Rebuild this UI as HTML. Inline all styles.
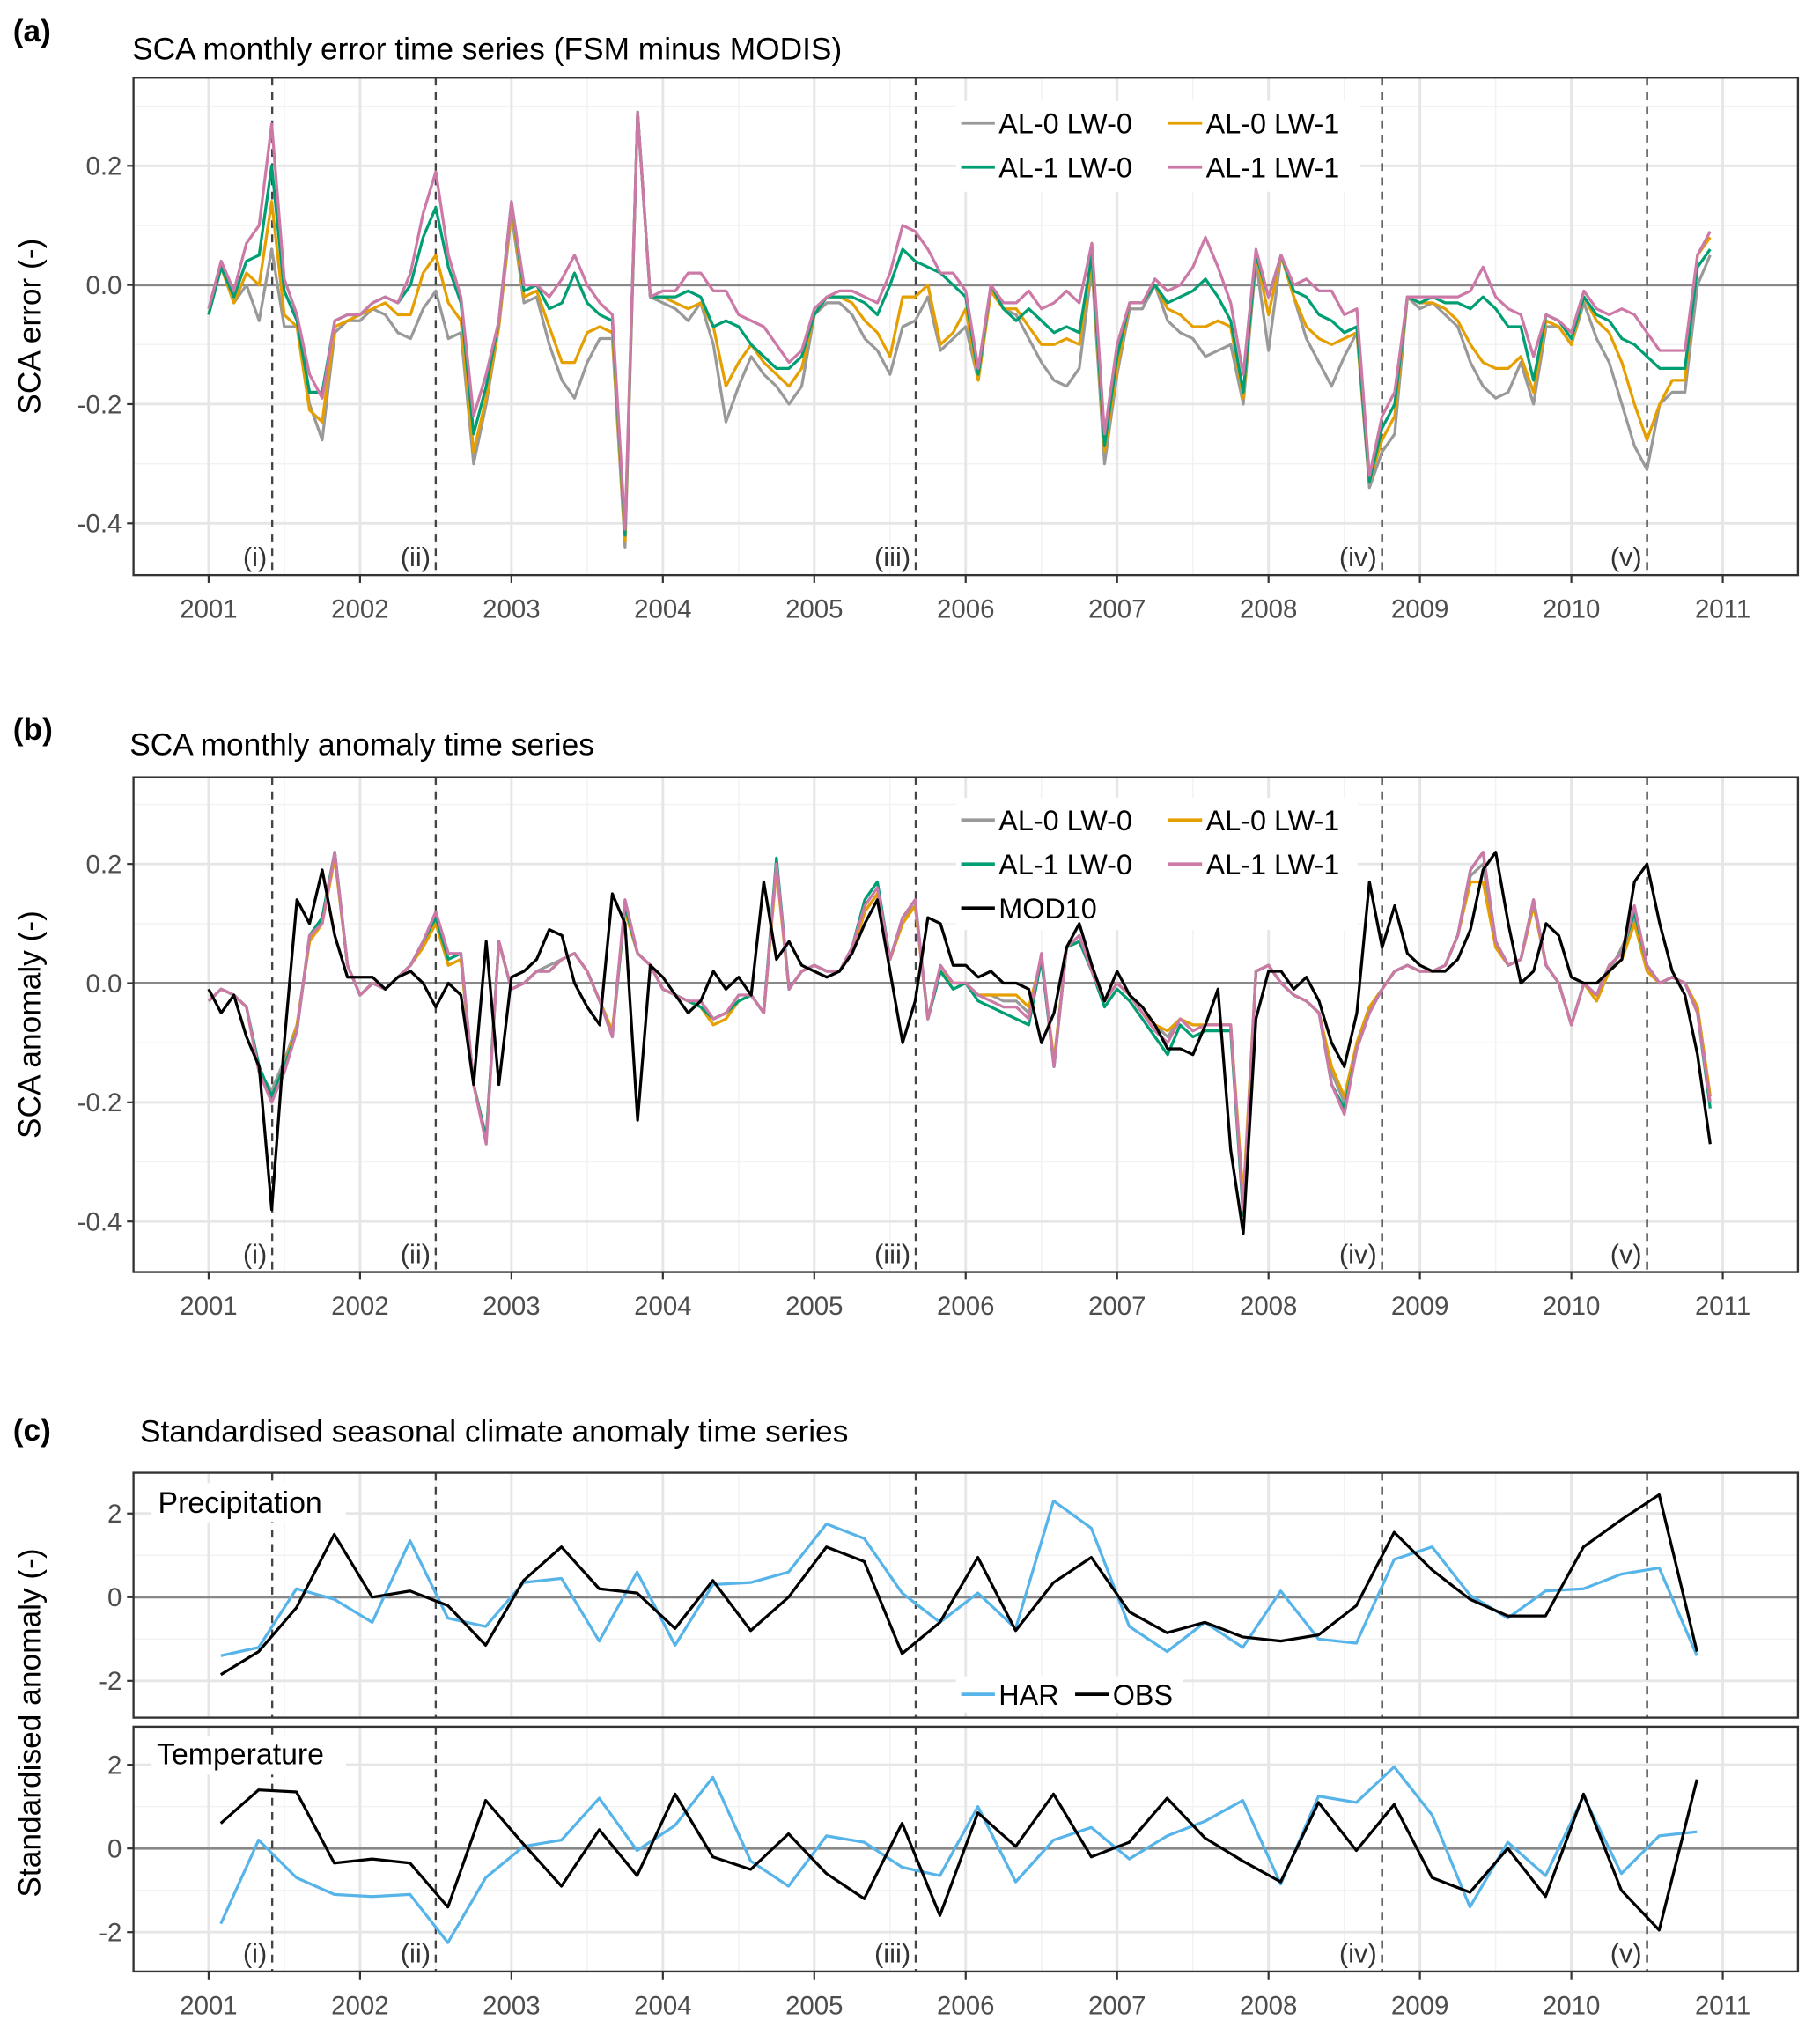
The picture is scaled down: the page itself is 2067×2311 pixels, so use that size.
<!DOCTYPE html>
<html><head><meta charset="utf-8"><style>
html,body{margin:0;padding:0;background:#fff}
svg{display:block}
text{font-family:"Liberation Sans",Arial,sans-serif}
</style></head><body>
<svg id="fig" width="2067" height="2311" viewBox="0 0 1405 1571" xmlns="http://www.w3.org/2000/svg"></svg>
<script>
// ---------- data ----------
const yearTicks = [2001,2002,2003,2004,2005,2006,2007,2008,2009,2010,2011];
const eventYears = [2001.42,2002.5,2005.67,2008.75,2010.5];
const eventLabels = ["(i)","(ii)","(iii)","(iv)","(v)"];
const errTicks = [-0.4,-0.2,0.0,0.2];
const errTickLabels = ["-0.4","-0.2","0.0","0.2"];
const stdTicks = [-2,0,2];
const stdTickLabels = ["-2","0","2"];

const errAL0LW0 = [-0.05,0.03,-0.03,0.0,-0.06,0.06,-0.07,-0.07,-0.2,-0.26,-0.08,-0.06,
-0.06,-0.04,-0.05,-0.08,-0.09,-0.04,-0.01,-0.09,-0.08,-0.30,-0.2,-0.07,
0.12,-0.03,-0.02,-0.1,-0.16,-0.19,-0.13,-0.09,-0.09,-0.44,0.29,-0.02,
-0.03,-0.04,-0.06,-0.03,-0.1,-0.23,-0.17,-0.12,-0.15,-0.17,-0.2,-0.17,
-0.05,-0.03,-0.03,-0.05,-0.09,-0.11,-0.15,-0.07,-0.06,-0.02,-0.11,-0.09,
-0.07,-0.16,-0.01,-0.04,-0.05,-0.09,-0.13,-0.16,-0.17,-0.14,0.03,-0.3,
-0.15,-0.04,-0.04,0.0,-0.06,-0.08,-0.09,-0.12,-0.11,-0.1,-0.2,0.04,
-0.11,0.05,-0.02,-0.09,-0.13,-0.17,-0.12,-0.08,-0.34,-0.28,
-0.25,-0.02,-0.04,-0.03,-0.05,-0.07,-0.13,-0.17,-0.19,-0.18,-0.13,-0.2,
-0.07,-0.07,-0.10,-0.03,-0.09,-0.13,-0.20,-0.27,-0.31,-0.20,-0.18,-0.18,0.0,0.05];
const errAL0LW1 = [-0.05,0.03,-0.03,0.02,0.0,0.14,-0.05,-0.07,-0.21,-0.23,-0.07,-0.06,
-0.05,-0.04,-0.03,-0.05,-0.05,0.02,0.05,-0.03,-0.06,-0.28,-0.19,-0.07,
0.13,-0.02,-0.01,-0.07,-0.13,-0.13,-0.08,-0.07,-0.08,-0.43,0.29,-0.02,
-0.02,-0.03,-0.04,-0.03,-0.07,-0.17,-0.13,-0.10,-0.13,-0.15,-0.17,-0.14,
-0.05,-0.02,-0.02,-0.03,-0.06,-0.08,-0.12,-0.02,-0.02,0.0,-0.10,-0.08,
-0.04,-0.16,-0.01,-0.04,-0.04,-0.07,-0.10,-0.10,-0.09,-0.10,0.04,-0.28,
-0.14,-0.03,-0.03,0.0,-0.04,-0.05,-0.07,-0.07,-0.06,-0.07,-0.19,0.05,
-0.05,0.05,-0.02,-0.07,-0.09,-0.10,-0.09,-0.08,-0.33,-0.26,
-0.22,-0.02,-0.03,-0.03,-0.04,-0.06,-0.10,-0.13,-0.14,-0.14,-0.12,-0.18,
-0.06,-0.07,-0.10,-0.02,-0.06,-0.08,-0.13,-0.20,-0.26,-0.20,-0.16,-0.16,0.05,0.08];
const errAL1LW0 = [-0.05,0.03,-0.02,0.04,0.05,0.20,-0.01,-0.06,-0.18,-0.18,-0.06,-0.05,
-0.05,-0.03,-0.02,-0.03,0.0,0.08,0.13,0.03,-0.03,-0.25,-0.17,-0.06,
0.14,-0.01,0.0,-0.04,-0.03,0.02,-0.03,-0.05,-0.06,-0.42,0.29,-0.02,
-0.02,-0.02,-0.01,-0.02,-0.07,-0.06,-0.07,-0.10,-0.12,-0.14,-0.14,-0.12,
-0.05,-0.02,-0.02,-0.02,-0.03,-0.05,0.0,0.06,0.04,0.03,0.02,0.0,
-0.02,-0.15,0.0,-0.04,-0.06,-0.04,-0.06,-0.08,-0.07,-0.08,0.05,-0.27,
-0.12,-0.03,-0.03,0.0,-0.03,-0.02,-0.01,0.01,-0.02,-0.06,-0.18,0.05,
-0.02,0.05,-0.01,-0.02,-0.05,-0.06,-0.08,-0.07,-0.33,-0.24,
-0.2,-0.02,-0.03,-0.02,-0.03,-0.03,-0.04,-0.02,-0.04,-0.07,-0.07,-0.16,
-0.05,-0.06,-0.09,-0.02,-0.05,-0.06,-0.09,-0.10,-0.12,-0.14,-0.14,-0.14,0.03,0.06];
const errAL1LW1 = [-0.04,0.04,-0.01,0.07,0.1,0.27,0.01,-0.05,-0.15,-0.19,-0.06,-0.05,
-0.05,-0.03,-0.02,-0.03,0.02,0.12,0.19,0.05,-0.02,-0.22,-0.15,-0.06,
0.14,0.0,0.0,-0.02,0.01,0.05,0.0,-0.03,-0.05,-0.41,0.29,-0.02,
-0.01,-0.01,0.02,0.02,-0.01,-0.01,-0.05,-0.06,-0.07,-0.1,-0.13,-0.11,
-0.04,-0.02,-0.01,-0.01,-0.02,-0.03,0.02,0.1,0.09,0.06,0.02,0.02,
-0.01,-0.14,0.0,-0.03,-0.03,-0.01,-0.04,-0.03,-0.01,-0.03,0.07,-0.25,
-0.1,-0.03,-0.03,0.01,-0.01,0.0,0.03,0.08,0.03,-0.03,-0.15,0.06,
-0.02,0.05,0.0,0.01,-0.01,-0.01,-0.05,-0.04,-0.32,-0.22,
-0.18,-0.02,-0.02,-0.02,-0.02,-0.02,-0.01,0.03,-0.02,-0.04,-0.05,-0.12,
-0.05,-0.06,-0.08,-0.01,-0.04,-0.05,-0.04,-0.05,-0.08,-0.11,-0.11,-0.11,0.05,0.09];

const anoAL1LW1 = [-0.03,-0.01,-0.02,-0.04,-0.15,-0.2,-0.15,-0.08,0.08,0.10,0.22,0.03,
-0.02,0.0,-0.01,0.01,0.03,0.07,0.12,0.05,0.05,-0.17,-0.27,0.07,
-0.01,0.0,0.02,0.02,0.04,0.05,0.02,-0.03,-0.09,0.14,0.05,0.03,
-0.01,-0.02,-0.03,-0.03,-0.06,-0.05,-0.02,-0.02,-0.05,0.20,-0.01,0.02,
0.03,0.02,0.02,0.06,0.13,0.16,0.04,0.11,0.14,-0.06,0.03,0.0,
0.0,-0.02,-0.03,-0.04,-0.04,-0.06,0.05,-0.14,0.06,0.08,0.02,-0.03,
0.0,-0.02,-0.05,-0.08,-0.1,-0.06,-0.08,-0.07,-0.07,-0.07,-0.38,0.02,
0.03,0.0,-0.02,-0.03,-0.05,-0.17,-0.22,-0.11,-0.05,-0.01,0.02,0.03,
0.02,0.02,0.03,0.08,0.19,0.22,0.07,0.03,0.04,0.14,0.03,0.0,
-0.07,0.0,-0.02,0.03,0.05,0.13,0.03,0.0,0.01,0.0,-0.05,-0.2];
const anoAL1LW0 = [-0.03,-0.01,-0.02,-0.04,-0.14,-0.19,-0.14,-0.08,0.08,0.11,0.22,0.03,
-0.02,0.0,-0.01,0.01,0.03,0.07,0.11,0.04,0.05,-0.17,-0.26,0.07,
-0.01,0.0,0.02,0.02,0.04,0.05,0.02,-0.03,-0.09,0.13,0.05,0.03,
-0.01,-0.02,-0.03,-0.04,-0.06,-0.05,-0.03,-0.02,-0.05,0.21,-0.01,0.02,
0.03,0.02,0.02,0.06,0.14,0.17,0.04,0.11,0.14,-0.06,0.02,-0.01,
0.0,-0.03,-0.04,-0.05,-0.06,-0.07,0.04,-0.14,0.06,0.07,0.02,-0.04,
-0.01,-0.03,-0.06,-0.09,-0.12,-0.07,-0.09,-0.08,-0.08,-0.08,-0.39,0.02,
0.03,0.0,-0.02,-0.03,-0.05,-0.17,-0.21,-0.11,-0.05,-0.01,0.02,0.03,
0.02,0.02,0.03,0.08,0.19,0.22,0.07,0.03,0.04,0.14,0.03,0.0,
-0.07,0.0,-0.02,0.03,0.05,0.12,0.03,0.0,0.01,0.0,-0.05,-0.21];
const anoAL0LW1 = [-0.03,-0.01,-0.02,-0.04,-0.15,-0.19,-0.14,-0.07,0.07,0.10,0.21,0.03,
-0.02,0.0,-0.01,0.01,0.03,0.06,0.10,0.03,0.04,-0.17,-0.26,0.07,
-0.01,0.0,0.02,0.02,0.04,0.05,0.02,-0.03,-0.08,0.12,0.05,0.03,
-0.01,-0.02,-0.03,-0.04,-0.07,-0.06,-0.03,-0.02,-0.05,0.19,-0.01,0.02,
0.03,0.02,0.02,0.05,0.12,0.15,0.04,0.10,0.13,-0.06,0.02,0.0,
0.0,-0.02,-0.02,-0.02,-0.02,-0.04,0.04,-0.13,0.06,0.07,0.02,-0.03,
0.0,-0.02,-0.05,-0.07,-0.08,-0.06,-0.07,-0.07,-0.07,-0.07,-0.36,0.02,
0.03,0.0,-0.02,-0.03,-0.05,-0.14,-0.19,-0.10,-0.04,-0.01,0.02,0.03,
0.02,0.02,0.03,0.08,0.17,0.17,0.06,0.03,0.04,0.13,0.03,0.0,
-0.07,0.0,-0.03,0.02,0.04,0.10,0.02,0.0,0.01,0.0,-0.04,-0.19];
const anoAL0LW0 = [-0.03,-0.01,-0.02,-0.04,-0.15,-0.18,-0.13,-0.07,0.07,0.11,0.22,0.03,
-0.02,0.0,-0.01,0.01,0.03,0.07,0.11,0.03,0.04,-0.17,-0.26,0.07,
-0.01,0.0,0.02,0.03,0.04,0.05,0.02,-0.03,-0.08,0.13,0.05,0.03,
-0.01,-0.02,-0.03,-0.04,-0.06,-0.05,-0.03,-0.02,-0.05,0.20,-0.01,0.02,
0.03,0.02,0.02,0.05,0.12,0.15,0.04,0.11,0.13,-0.06,0.02,0.0,
0.0,-0.02,-0.02,-0.03,-0.03,-0.05,0.04,-0.14,0.06,0.08,0.02,-0.03,
0.0,-0.02,-0.05,-0.07,-0.09,-0.06,-0.08,-0.07,-0.07,-0.07,-0.37,0.02,
0.03,0.0,-0.02,-0.03,-0.05,-0.15,-0.2,-0.10,-0.04,-0.01,0.02,0.03,
0.02,0.02,0.03,0.08,0.18,0.20,0.06,0.03,0.04,0.13,0.03,0.0,
-0.07,0.0,-0.03,0.02,0.06,0.11,0.02,0.0,0.01,0.0,-0.04,-0.19];
const anoMOD10 = [-0.01,-0.05,-0.02,-0.09,-0.14,-0.38,-0.1,0.14,0.10,0.19,0.08,0.01,
0.01,0.01,-0.01,0.01,0.02,0.0,-0.04,0.0,-0.02,-0.17,0.07,-0.17,
0.01,0.02,0.04,0.09,0.08,0.0,-0.04,-0.07,0.15,0.1,-0.23,0.03,
0.01,-0.02,-0.05,-0.03,0.02,-0.01,0.01,-0.02,0.17,0.04,0.07,0.03,
0.02,0.01,0.02,0.05,0.1,0.14,0.02,-0.1,-0.03,0.11,0.1,0.03,
0.03,0.01,0.02,0.0,0.0,-0.01,-0.10,-0.05,0.06,0.10,0.03,-0.03,
0.02,-0.02,-0.04,-0.07,-0.11,-0.11,-0.12,-0.07,-0.01,-0.28,-0.42,-0.06,
0.02,0.02,-0.01,0.01,-0.03,-0.1,-0.14,-0.05,0.17,0.06,0.13,0.05,
0.03,0.02,0.02,0.04,0.09,0.19,0.22,0.1,0.0,0.02,0.1,0.08,
0.01,0.0,0.0,0.02,0.04,0.17,0.20,0.1,0.02,-0.02,-0.12,-0.27];

const precipHAR = [-1.4,-1.2,0.2,-0.05,-0.6,1.35,-0.5,-0.7,0.35,0.45,-1.05,0.6,-1.15,0.3,0.35,0.6,1.75,1.4,0.1,-0.6,0.1,-0.75,2.3,1.65,-0.7,-1.3,-0.6,-1.2,0.15,-1.0,-1.1,0.9,1.2,0.05,-0.5,0.15,0.2,0.55,0.7,-1.4];
const precipOBS = [-1.85,-1.3,-0.25,1.5,0.0,0.15,-0.2,-1.15,0.4,1.2,0.2,0.1,-0.75,0.4,-0.8,0.0,1.2,0.85,-1.35,-0.6,0.95,-0.8,0.35,0.95,-0.35,-0.85,-0.6,-0.95,-1.05,-0.9,-0.2,1.55,0.65,-0.05,-0.45,-0.45,1.2,1.85,2.45,-1.3];
const tempHAR = [-1.8,0.2,-0.7,-1.1,-1.15,-1.1,-2.25,-0.7,0.05,0.2,1.2,-0.05,0.55,1.7,-0.3,-0.9,0.3,0.15,-0.45,-0.65,1.0,-0.8,0.2,0.5,-0.25,0.3,0.65,1.15,-0.85,1.25,1.1,1.95,0.8,-1.4,0.15,-0.65,1.25,-0.6,0.3,0.4];
const tempOBS = [0.6,1.4,1.35,-0.35,-0.25,-0.35,-1.4,1.15,0.1,-0.9,0.45,-0.65,1.3,-0.2,-0.5,0.35,-0.6,-1.2,0.6,-1.6,0.85,0.05,1.3,-0.2,0.15,1.2,0.25,-0.3,-0.8,1.1,-0.05,1.05,-0.7,-1.05,0.0,-1.15,1.3,-1.0,-1.95,1.65];

// ---------- drawing ----------
const NS="http://www.w3.org/2000/svg";
const svg=document.getElementById('fig');
function el(tag,attrs,parent){const e=document.createElementNS(NS,tag);for(const k in attrs)e.setAttribute(k,attrs[k]);(parent||svg).appendChild(e);return e;}
const X0=103,X1=1388;
const xs=t=>161+(t-2001)*116.9;
const COL={g:"#999999",o:"#E69F00",gr:"#009E73",p:"#CC79A7",har:"#56B4E9",k:"#000"};

function panel(name,top,bot,yScale,ticks,tickLabels,minorTicks){
  const g=el('g',{});
  
  
  el('rect',{x:X0,y:top,width:X1-X0,height:bot-top,fill:'#fff'},g);
  for(let y=2001.5;y<2011.6;y+=1){if(xs(y)<X1)el('line',{x1:xs(y),x2:xs(y),y1:top,y2:bot,stroke:'#f2f2f2','stroke-width':1},g);}
  minorTicks.forEach(v=>{const y=yScale(v);if(y>top&&y<bot)el('line',{x1:X0,x2:X1,y1:y,y2:y,stroke:'#f2f2f2','stroke-width':1},g);});
  yearTicks.forEach(v=>el('line',{x1:xs(v),x2:xs(v),y1:top,y2:bot,stroke:'#e6e6e6','stroke-width':2},g));
  ticks.forEach(v=>el('line',{x1:X0,x2:X1,y1:yScale(v),y2:yScale(v),stroke:'#e6e6e6','stroke-width':2},g));
  el('line',{x1:X0,x2:X1,y1:yScale(0),y2:yScale(0),stroke:'#888','stroke-width':2},g);
  eventYears.forEach(v=>el('line',{x1:xs(v),x2:xs(v),y1:top,y2:bot,stroke:'#444','stroke-width':1.6,'stroke-dasharray':'6,5'},g));
  ticks.forEach((v,i)=>{
    el('line',{x1:X0-5,x2:X0,y1:yScale(v),y2:yScale(v),stroke:'#333','stroke-width':1.5},g);
    const t=el('text',{x:X0-9,y:yScale(v)+7,'text-anchor':'end','font-size':20,fill:'#4d4d4d'},g);t.textContent=tickLabels[i];
  });
  return g;
}
function frame(g,top,bot){el('rect',{x:X0,y:top,width:X1-X0,height:bot-top,fill:'none',stroke:'#333','stroke-width':1.6},g);}
function xaxis(g,bot){
  yearTicks.forEach(v=>{
    el('line',{x1:xs(v),x2:xs(v),y1:bot,y2:bot+6,stroke:'#333','stroke-width':1.5},g);
    const t=el('text',{x:xs(v),y:bot+33,'text-anchor':'middle','font-size':20,fill:'#4d4d4d'},g);t.textContent=v;
  });
}
function eventText(g,y){
  eventYears.forEach((v,i)=>{const t=el('text',{x:xs(v)-4,y:y,'text-anchor':'end','font-size':21,fill:'#333'},g);t.textContent=eventLabels[i];});
}
function series(g,vals,t0,dt,ys,color,name){
  const pts=vals.map((v,i)=>xs(t0+i*dt).toFixed(1)+','+ys(v).toFixed(1)).join(' ');
  const p=el('polyline',{points:pts,fill:'none',stroke:color,'stroke-width':2.2,'stroke-linejoin':'round'},g);
  
  
}
function text(x,y,s,size,opts,name){
  const t=el('text',Object.assign({x:x,y:y,'font-size':size,fill:'#000'},opts||{}));
  t.textContent=s;
  
  
  return t;
}
function legendItem(g,x,y,color,label,name){
  const gg=el('g',{},g);
  
  
  el('line',{x1:x,x2:x+26,y1:y,y2:y,stroke:color,'stroke-width':2.5},gg);
  const t=el('text',{x:x+29,y:y+8,'font-size':22,fill:'#000'},gg);t.textContent=label;
}

// Panel a
const ya=v=>220-v*460;
const ga=panel('panel-a-plot',60,444,ya,errTicks,errTickLabels,[-0.3,-0.1,0.1,0.3]);
eventText(ga,437);
series(ga,errAL0LW0,2001,1/12,ya,COL.g,'line-a-al0-lw0');
series(ga,errAL0LW1,2001,1/12,ya,COL.o,'line-a-al0-lw1');
series(ga,errAL1LW0,2001,1/12,ya,COL.gr,'line-a-al1-lw0');
series(ga,errAL1LW1,2001,1/12,ya,COL.p,'line-a-al1-lw1');
el('rect',{x:738,y:78,width:312,height:70,fill:'#fff'},ga);
legendItem(ga,742,95,COL.g,'AL-0 LW-0','legend-al0-lw0');
legendItem(ga,902,95,COL.o,'AL-0 LW-1','legend-al0-lw1');
legendItem(ga,742,129,COL.gr,'AL-1 LW-0','legend-al1-lw0');
legendItem(ga,902,129,COL.p,'AL-1 LW-1','legend-al1-lw1');
frame(ga,60,444);xaxis(ga,444);
text(10,32,'(a)',24,{'font-weight':'bold'},'panel-a-label');
text(102,46,'SCA monthly error time series (FSM minus MODIS)',24,{},'panel-a-title');
text(31,252,'SCA error (-)',24,{transform:'rotate(-90 31 252)','text-anchor':'middle'},'panel-a-y-title');

// Panel b
const yb=v=>759-v*460;
const gb=panel('panel-b-plot',600,982,yb,errTicks,errTickLabels,[-0.3,-0.1,0.1,0.3]);
eventText(gb,975);
el('rect',{x:738,y:616,width:310,height:102,fill:'#fff'},gb);
legendItem(gb,742,633,COL.g,'AL-0 LW-0','legend-b-al0-lw0');
legendItem(gb,902,633,COL.o,'AL-0 LW-1','legend-b-al0-lw1');
legendItem(gb,742,667,COL.gr,'AL-1 LW-0','legend-b-al1-lw0');
legendItem(gb,902,667,COL.p,'AL-1 LW-1','legend-b-al1-lw1');
legendItem(gb,742,701,COL.k,'MOD10','legend-b-mod10');
series(gb,anoAL0LW0,2001,1/12,yb,COL.g,'line-b-al0-lw0');
series(gb,anoAL0LW1,2001,1/12,yb,COL.o,'line-b-al0-lw1');
series(gb,anoAL1LW0,2001,1/12,yb,COL.gr,'line-b-al1-lw0');
series(gb,anoAL1LW1,2001,1/12,yb,COL.p,'line-b-al1-lw1');
series(gb,anoMOD10,2001,1/12,yb,COL.k,'line-b-mod10');
frame(gb,600,982);xaxis(gb,982);
text(10,571,'(b)',24,{'font-weight':'bold'},'panel-b-label');
text(100,583,'SCA monthly anomaly time series',24,{},'panel-b-title');
text(31,791,'SCA anomaly (-)',24,{transform:'rotate(-90 31 791)','text-anchor':'middle'},'panel-b-y-title');

// Panel c
const yc1=v=>1233-v*32.3;
const yc2=v=>1427-v*32.3;
const gc1=panel('panel-c-precip-plot',1137,1326,yc1,stdTicks,stdTickLabels,[-1,1]);
series(gc1,precipHAR,2001.08,0.25,yc1,COL.har,'line-precip-har');
series(gc1,precipOBS,2001.08,0.25,yc1,COL.k,'line-precip-obs');
el('rect',{x:117,y:1145,width:150,height:30,fill:'#fff'},gc1);
text(122,1168,'Precipitation',23,{},'facet-precipitation');
el('rect',{x:738,y:1294,width:175,height:28,fill:'#fff'},gc1);
legendItem(gc1,742,1308,COL.har,'HAR','legend-har');
legendItem(gc1,830,1308,COL.k,'OBS','legend-obs');
frame(gc1,1137,1326);
const gc2=panel('panel-c-temp-plot',1333,1522,yc2,stdTicks,stdTickLabels,[-1,1]);
eventText(gc2,1515);
series(gc2,tempHAR,2001.08,0.25,yc2,COL.har,'line-temp-har');
series(gc2,tempOBS,2001.08,0.25,yc2,COL.k,'line-temp-obs');
el('rect',{x:117,y:1340,width:150,height:30,fill:'#fff'},gc2);
text(121,1362,'Temperature',23,{},'facet-temperature');
frame(gc2,1333,1522);xaxis(gc2,1522);
text(10,1112,'(c)',24,{'font-weight':'bold'},'panel-c-label');
text(108,1113,'Standardised seasonal climate anomaly time series',24,{},'panel-c-title');
text(31,1330,'Standardised anomaly (-)',24,{transform:'rotate(-90 31 1330)','text-anchor':'middle'},'panel-c-y-title');
</script>
</body></html>
